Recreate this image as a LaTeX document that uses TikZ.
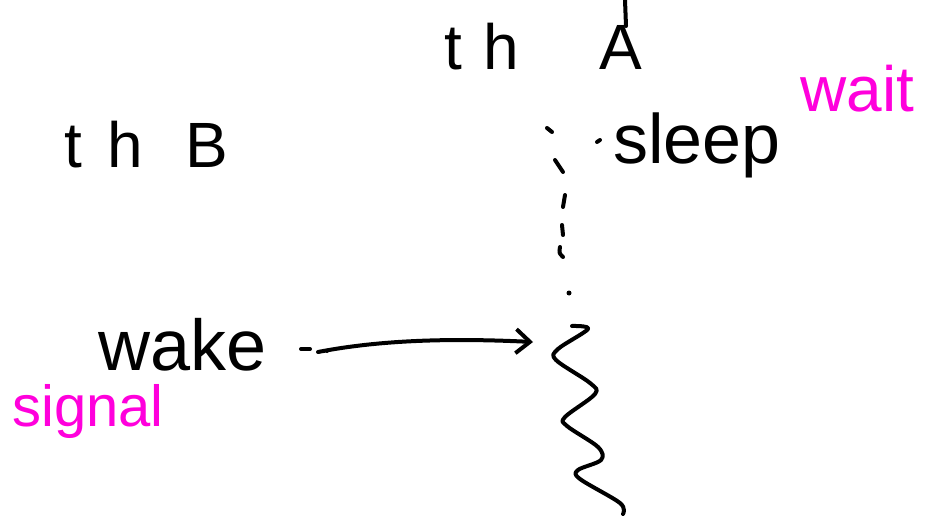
\documentclass[tikz,border=0pt]{standalone}
\usepackage{fontspec}
\setmainfont{Liberation Sans}
\usetikzlibrary{arrows.meta}
\definecolor{hl}{RGB}{255,0,220}
\begin{document}
\begin{tikzpicture}[x=1pt,y=-1pt,
  ink/.style={line width=4pt, line cap=round, line join=round},
  lbl/.style={anchor=base west, inner sep=0pt, font=\fontsize{64}{64}\selectfont},
  note/.style={lbl, text=hl, font=\fontsize{64}{64}\selectfont},
  conn/.style={ink, -{Straight Barb[length=14pt,width=24pt,line width=4pt]}}]
\useasboundingbox[fill=white] (0,0) rectangle (947,521);
% labels
\node[lbl] (thA) at (444,70) {t\hspace{22pt}h\hspace{80pt}A};
\node[lbl] (thB) at (64,168) {t\hspace{26pt}h\hspace{42pt}B};
\node[lbl, font=\fontsize{70}{70}\selectfont] (sleep) at (613,164) {sleep};
\node[note] (wait) at (800,112) {wait};
\node[lbl, font=\fontsize{72}{72}\selectfont] (wake) at (98,370) {wake};
\node[note, font=\fontsize{58}{58}\selectfont] (signal) at (12,426) {signal};
% small stroke above A
\draw[ink] (625,0) -- (626,26);
% thread A waiting (dotted)
\draw[ink] (547,128) -- (552,132);
\draw[ink] (555,160) -- (563,172);
\draw[ink] (565,195) -- (563,207);
\draw[ink] (562,225) -- (563,235);
\draw[ink] (560,247) .. controls (559,253) .. (563,257);
\fill (569,293) circle (2.5pt);
\draw[ink] (597,142) -- (600,140);
% thread A running again (wavy)
\coordinate (wv) at (533,342);
\draw[ink] plot[smooth, tension=0.55] coordinates {(572,326) (588,329) (558,349) (556,360) (590,383) (595,394) (565,417) (567,426) (598,447) (601,460) (578,470) (580,479) (620,503) (623,514)};
% wake signal arrow
\coordinate (d0) at (301,349);
\coordinate (a0) at (318,352);
\draw[ink] (d0) -- ++(9,0);
\fill (327,351) circle (2pt);
\draw[conn] (a0) .. controls (380,340) and (450,338) .. (wv);
\end{tikzpicture}
\end{document}
